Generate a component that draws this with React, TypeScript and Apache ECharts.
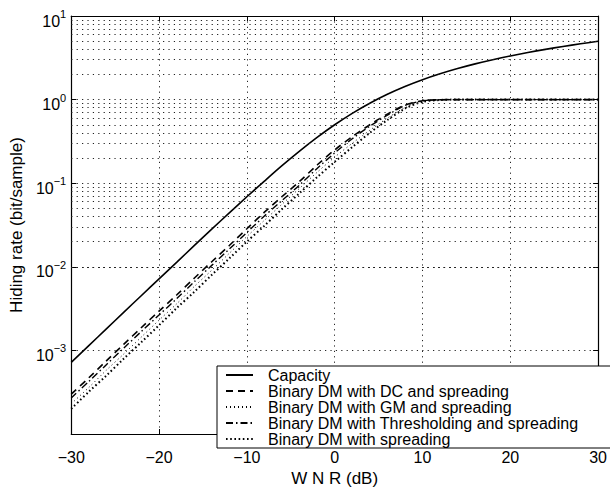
import React, { useEffect, useRef } from "react";
import * as echarts from "echarts";

const wnrDb = [-30, -28, -26, -24, -22, -20, -18, -16, -14, -12, -10, -8, -6, -4, -2, 0, 2, 4, 6, 8, 10, 12, 14, 16, 18, 20, 22, 24, 26, 28, 30];

const capacity = [7.2e-4, 1.14e-3, 1.81e-3, 2.87e-3, 4.54e-3, 7.18e-3, 0.0113, 0.0179, 0.0282, 0.0441, 0.0688, 0.106, 0.162, 0.242, 0.353, 0.5, 0.685, 0.906, 1.158, 1.435, 1.73, 2.037, 2.353, 2.675, 3.0, 3.33, 3.66, 3.99, 4.32, 4.65, 4.98];

const dmDC = [3.0e-4, 4.7e-4, 7.5e-4, 1.19e-3, 1.88e-3, 2.95e-3, 4.6e-3, 7.3e-3, 0.0115, 0.018, 0.0285, 0.045, 0.069, 0.105, 0.165, 0.25, 0.36, 0.5, 0.67, 0.86, 0.97, 0.995, 1, 1, 1, 1, 1, 1, 1, 1, 1];

const dmGM = [2.3e-4, 3.6e-4, 5.8e-4, 9.1e-4, 1.45e-3, 2.3e-3, 3.6e-3, 5.8e-3, 9.1e-3, 0.0145, 0.023, 0.036, 0.056, 0.087, 0.135, 0.205, 0.3, 0.43, 0.6, 0.8, 0.95, 0.99, 1, 1, 1, 1, 1, 1, 1, 1, 1];

const dmThreshold = [2.7e-4, 4.25e-4, 6.75e-4, 1.07e-3, 1.69e-3, 2.65e-3, 4.15e-3, 6.6e-3, 0.0104, 0.0163, 0.0257, 0.0405, 0.062, 0.095, 0.15, 0.23, 0.34, 0.48, 0.65, 0.85, 0.965, 0.995, 1, 1, 1, 1, 1, 1, 1, 1, 1];

const dmSpreading = [2.0e-4, 3.2e-4, 5.0e-4, 8.0e-4, 1.26e-3, 2.0e-3, 3.2e-3, 5.0e-3, 8.0e-3, 0.0126, 0.02, 0.031, 0.049, 0.076, 0.118, 0.18, 0.27, 0.4, 0.57, 0.78, 0.94, 0.99, 1, 1, 1, 1, 1, 1, 1, 1, 1];

const seriesNames = [
  "Capacity",
  "Binary DM with DC and spreading",
  "Binary DM with GM and spreading",
  "Binary DM with Thresholding and spreading",
  "Binary DM with spreading",
];

const decades = [-4, -3, -2, -1, 0];
const minorMultipliers = [2, 3, 4, 5, 6, 7, 8, 9];

const FONT = "'Liberation Sans', Arial, Helvetica, sans-serif";
const GRID_DOT = { color: "#222", type: [1.2, 4.2] as number[], width: 1 };

function pairs(ys: number[]) {
  return wnrDb.map((x, i) => [x, ys[i]]);
}

export default function App() {
  const ref = useRef<HTMLDivElement>(null);
  useEffect(() => {
    document.body.style.margin = "0";
    const chart = echarts.init(ref.current!, null, { renderer: "svg" });
    const minorLines: any[] = [];
    decades.forEach((d) =>
      minorMultipliers.forEach((m) => minorLines.push({ yAxis: m * Math.pow(10, d) }))
    );
    const styles: any[] = [
      { type: "solid", width: 1.6 },
      { type: [7, 5], width: 1.6 },
      { type: [1, 3], width: 1 },
      { type: [7, 3, 1.5, 3], width: 1.4 },
      { type: [1.6, 2.6], width: 2 },
    ];
    const dataSets = [capacity, dmDC, dmGM, dmThreshold, dmSpreading];
    const yLabel = (v: number) => {
      const e = Math.round(Math.log10(v));
      if (e === -4) return "";
      const s = e < 0 ? "\u2212" + -e : String(e);
      return `{b|10}{s|${s}}`;
    };
    const axisLine = { show: true, onZero: false, lineStyle: { color: "#000", width: 1.2 } };
    const axisTick = { show: true, inside: true, length: 5, lineStyle: { color: "#000" } };
    chart.setOption({
      animation: false,
      backgroundColor: "#fff",
      textStyle: { fontFamily: FONT, color: "#000" },
      grid: { left: 67, right: 11, top: 16, bottom: 45 },
      legend: {
        data: seriesNames,
        orient: "vertical",
        left: 217,
        top: 366,
        itemWidth: 27,
        itemHeight: 14,
        itemGap: 0,
        padding: [1, 34, 1, 8],
        backgroundColor: "#fff",
        borderColor: "#000",
        borderWidth: 1,
        borderRadius: 0,
        itemStyle: { opacity: 0 },
        textStyle: { fontFamily: FONT, fontSize: 16, color: "#000", lineHeight: 16, padding: [0, 0, 0, 10] },
      },
      xAxis: [
        {
          type: "value",
          min: -30,
          max: 30,
          interval: 10,
          name: "W N R (dB)",
          nameLocation: "middle",
          nameGap: 36,
          nameTextStyle: { fontFamily: FONT, fontSize: 17, color: "#000" },
          axisLine,
          axisTick,
          axisLabel: {
            margin: 15,
            fontFamily: FONT,
            fontSize: 16,
            color: "#000",
            formatter: (v: number) => (v < 0 ? "\u2212" + -v : String(v)),
          },
          splitLine: { show: true, lineStyle: GRID_DOT },
        },
        {
          type: "value",
          position: "top",
          min: -30,
          max: 30,
          interval: 10,
          axisLine,
          axisTick,
          axisLabel: { show: false },
          splitLine: { show: false },
        },
      ],
      yAxis: [
        {
          type: "log",
          logBase: 10,
          min: 1e-4,
          max: 10,
          name: "Hiding rate (bit/sample)",
          nameLocation: "middle",
          nameGap: 43,
          nameTextStyle: { fontFamily: FONT, fontSize: 17, color: "#000" },
          axisLine,
          axisTick,
          axisLabel: {
            margin: 5,
            formatter: yLabel,
            rich: {
              b: { fontFamily: FONT, fontSize: 16, color: "#000", padding: [10, 0, 0, 0] },
              s: { fontFamily: FONT, fontSize: 11, color: "#000", padding: [0, 0, 4, 0] },
            },
          },
          splitLine: { show: true, lineStyle: GRID_DOT },
        },
        {
          type: "log",
          logBase: 10,
          min: 1e-4,
          max: 10,
          position: "right",
          axisLine,
          axisTick,
          axisLabel: { show: false },
          splitLine: { show: false },
        },
      ],
      series: [
        {
          name: "minor-grid",
          type: "line",
          data: [],
          silent: true,
          markLine: {
            silent: true,
            symbol: ["none", "none"],
            label: { show: false },
            lineStyle: GRID_DOT,
            emphasis: { disabled: true },
            data: minorLines,
          },
        },
        ...seriesNames.map((name, i) => ({
          name,
          type: "line",
          data: pairs(dataSets[i]),
          showSymbol: false,
          symbol: "none",
          smooth: 0.3,
          lineStyle: { color: "#000", ...styles[i] },
          itemStyle: { color: "#000" },
          z: 3,
        })),
      ],
    });
    return () => chart.dispose();
  }, []);
  return <div ref={ref} style={{ width: 610, height: 492 }} />;
}
